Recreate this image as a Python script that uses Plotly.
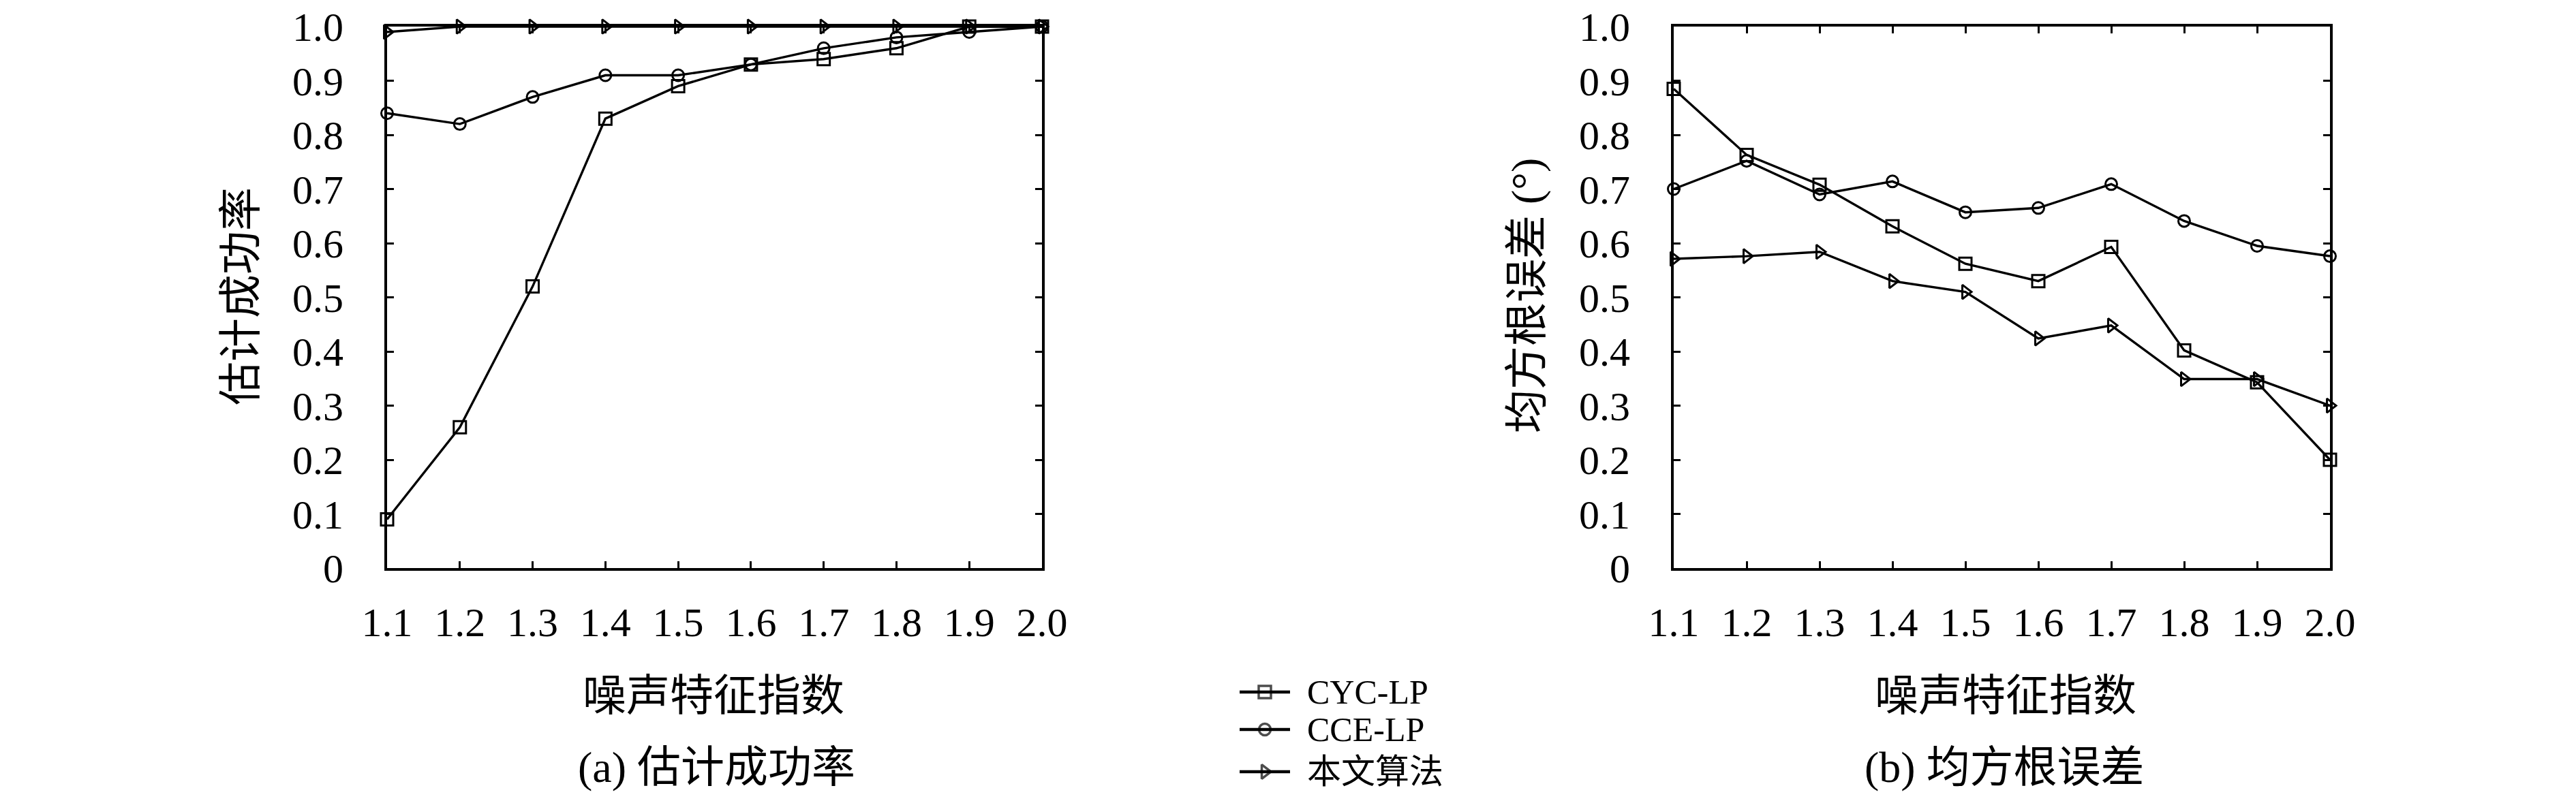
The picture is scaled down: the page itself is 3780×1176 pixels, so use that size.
import plotly.graph_objects as go

W, H = 3780, 1176
OFF = 8  # browser body margin

# ---------------- data ----------------
alpha = [1.1, 1.2, 1.3, 1.4, 1.5, 1.6, 1.7, 1.8, 1.9, 2.0]
x_ticktext = ["1.1", "1.2", "1.3", "1.4", "1.5", "1.6", "1.7", "1.8", "1.9", "2.0"]
y_tickvals = [0, 0.1, 0.2, 0.3, 0.4, 0.5, 0.6, 0.7, 0.8, 0.9, 1.0]
y_ticktext = ["0", "0.1", "0.2", "0.3", "0.4", "0.5", "0.6", "0.7", "0.8", "0.9", "1.0"]

series_names = ["CYC-LP", "CCE-LP", "本文算法"]

# (a) success rate
succ_cyc = [0.09, 0.26, 0.52, 0.83, 0.89, 0.93, 0.94, 0.96, 1.00, 1.00]
succ_cce = [0.84, 0.82, 0.87, 0.91, 0.91, 0.93, 0.96, 0.98, 0.99, 1.00]
succ_ours = [0.99, 1.00, 1.00, 1.00, 1.00, 1.00, 1.00, 1.00, 1.00, 1.00]

# (b) RMSE (deg)
rmse_cyc = [0.885, 0.763, 0.708, 0.631, 0.562, 0.530, 0.593, 0.402, 0.343, 0.200]
rmse_cce = [0.700, 0.752, 0.690, 0.714, 0.657, 0.665, 0.709, 0.641, 0.595, 0.576]
rmse_ours = [0.571, 0.576, 0.584, 0.530, 0.510, 0.424, 0.448, 0.349, 0.349, 0.300]

# ---------------- style ----------------
FONT = "'Liberation Serif', 'Noto Sans CJK SC', serif"
symbols = ["square-open", "circle-open", "triangle-right-open"]
msizes = [18, 17, 18]
LW = 3.4

def px_x(p):
    return (p - OFF) / W

def px_y(p):
    return 1 - (p - OFF) / H

fig = go.Figure()

panel_a = [succ_cyc, succ_cce, succ_ours]
panel_b = [rmse_cyc, rmse_cce, rmse_ours]

for i, name in enumerate(series_names):
    fig.add_trace(go.Scatter(
        x=alpha, y=panel_a[i], mode="lines+markers", name=name,
        line=dict(color="black", width=LW),
        marker=dict(symbol=symbols[i], size=msizes[i], color="black",
                    line=dict(color="black", width=3)),
        cliponaxis=False, showlegend=False, xaxis="x", yaxis="y"))
for i, name in enumerate(series_names):
    fig.add_trace(go.Scatter(
        x=alpha, y=panel_b[i], mode="lines+markers", name=name,
        line=dict(color="black", width=LW),
        marker=dict(symbol=symbols[i], size=msizes[i], color="black",
                    line=dict(color="black", width=3)),
        cliponaxis=False, showlegend=False, xaxis="x2", yaxis="y2"))

# legend: small axes spanning the legend area, units = page pixels
LEG_X0, LEG_X1 = 1819, 1893
LEG_BOX = (1800, 2300, 980, 1170)  # x0, x1, y0(top), y1(bottom) in page px
leg_rows = [1016, 1071, 1133]
for i, name in enumerate(series_names):
    fig.add_trace(go.Scatter(
        x=[LEG_X0, (LEG_X0 + LEG_X1) / 2, LEG_X1],
        y=[leg_rows[i]] * 3, mode="lines+markers",
        line=dict(color="black", width=4.5),
        marker=dict(symbol=symbols[i], size=[0, msizes[i], 0], color="black",
                    line=dict(color="black", width=3.5)),
        cliponaxis=False, showlegend=False, hoverinfo="skip",
        xaxis="x3", yaxis="y3"))

common_x = dict(
    range=[1.1, 2.0], tickvals=alpha, ticktext=x_ticktext,
    showline=True, linecolor="black", linewidth=4, mirror="allticks",
    ticks="inside", ticklen=10, tickwidth=3, tickcolor="black",
    showgrid=False, zeroline=False, ticklabelstandoff=24, automargin=False,
    ticklabeloverflow="allow",
    tickfont=dict(family=FONT, size=60, color="black"),
)
common_y = dict(
    range=[0, 1.0], tickvals=y_tickvals, ticktext=y_ticktext,
    showline=True, linecolor="black", linewidth=4, mirror="allticks",
    ticks="inside", ticklen=10, tickwidth=3, tickcolor="black",
    showgrid=False, zeroline=False, ticklabelstandoff=48, automargin=False,
    ticklabeloverflow="allow",
    tickfont=dict(family=FONT, size=60, color="black"),
)

TOP = 39
fig.update_layout(
    width=W, height=H, autosize=False,
    margin=dict(l=0, r=0, t=0, b=0, autoexpand=False),
    paper_bgcolor="white", plot_bgcolor="rgba(0,0,0,0)",
    font=dict(family=FONT, color="black"),
    xaxis=dict(domain=[px_x(568), px_x(1529)], anchor="y", **common_x),
    yaxis=dict(domain=[px_y(834), px_y(TOP)], anchor="x", **common_y),
    xaxis2=dict(domain=[px_x(2456), px_x(3419)], anchor="y2", **common_x),
    yaxis2=dict(domain=[px_y(834), px_y(TOP)], anchor="x2", **common_y),
    xaxis3=dict(domain=[px_x(LEG_BOX[0]), px_x(LEG_BOX[1])], anchor="y3",
                range=[LEG_BOX[0], LEG_BOX[1]],
                visible=False, fixedrange=True, automargin=False),
    yaxis3=dict(domain=[px_y(LEG_BOX[3]), px_y(LEG_BOX[2])], anchor="x3",
                range=[LEG_BOX[3], LEG_BOX[2]],
                visible=False, fixedrange=True, automargin=False),
)

ann = []
def add_text(text, x, y, size, angle=0, xanchor="center"):
    ann.append(dict(text=text, x=x, y=y, xref="paper", yref="paper", showarrow=False,
                    xanchor=xanchor, yanchor="middle", textangle=angle,
                    font=dict(family=FONT, size=size, color="black")))

add_text("估计成功率", px_x(353), px_y(435), 64, angle=-90)
add_text("均方根误差 (°)", px_x(2240), px_y(434), 64, angle=-90)
add_text("噪声特征指数", px_x(1047), px_y(1021), 64)
add_text("噪声特征指数", px_x(2943), px_y(1021), 64)
add_text("(a) 估计成功率", px_x(1051), px_y(1126), 64)
add_text("(b) 均方根误差", px_x(2941), px_y(1126), 64)
for i, name in enumerate(series_names):
    add_text(name, px_x(1916), px_y(leg_rows[i]), 50, xanchor="left")

fig.update_layout(annotations=ann)

fig.write_html("out.html")
